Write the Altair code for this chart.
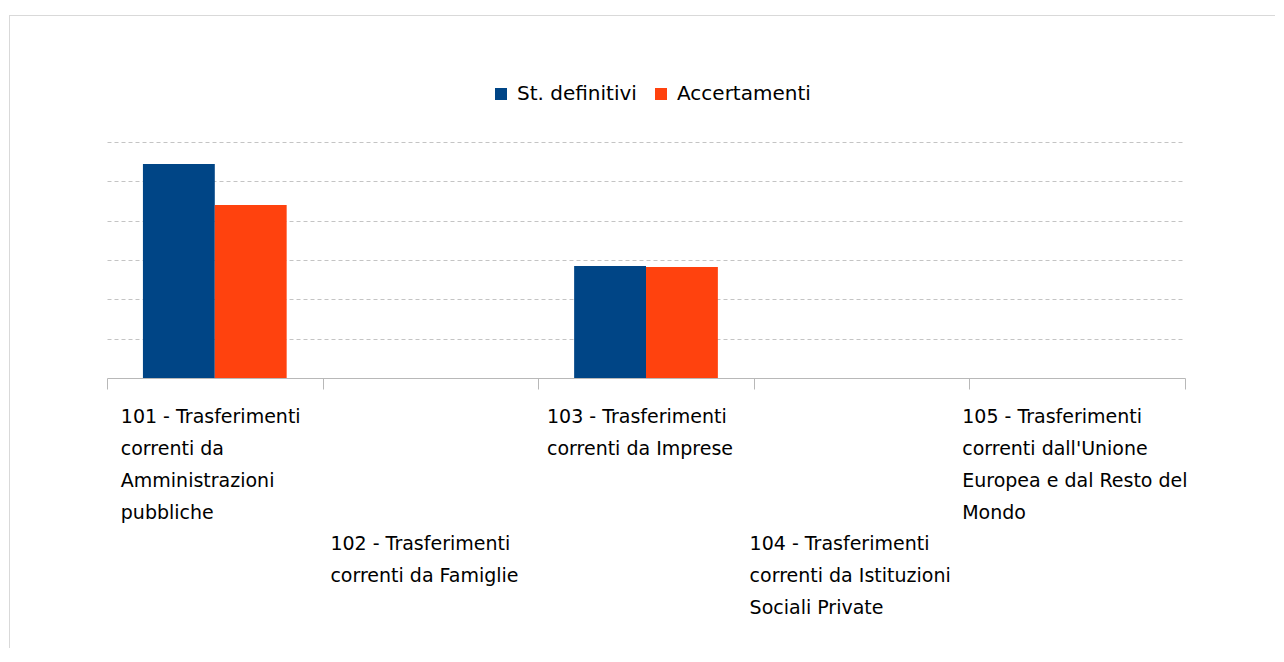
import altair as alt
import pandas as pd

categories = ["101", "102", "103", "104", "105"]
cat_labels = [
    "101 - Trasferimenti\ncorrenti da\nAmministrazioni\npubbliche",
    "102 - Trasferimenti\ncorrenti da Famiglie",
    "103 - Trasferimenti\ncorrenti da Imprese",
    "104 - Trasferimenti\ncorrenti da Istituzioni\nSociali Private",
    "105 - Trasferimenti\ncorrenti dall'Unione\nEuropea e dal Resto del\nMondo",
]
series = ["St. definitivi", "Accertamenti"]
st_definitivi = [5.44, 0.0, 2.85, 0.0, 0.0]
accertamenti = [4.40, 0.0, 2.82, 0.0, 0.0]
colors = ["#004586", "#ff420e"]

rows = []
for i, c in enumerate(categories):
    rows.append({"cat": c, "serie": series[0], "val": st_definitivi[i]})
    rows.append({"cat": c, "serie": series[1], "val": accertamenti[i]})
df = pd.DataFrame(rows)
lab_df = pd.DataFrame({"cat": categories, "label": cat_labels})

FONT = "DejaVu Sans"
W, H = 1078, 236

xscale = alt.Scale(domain=categories, paddingInner=0, paddingOuter=0)

bars = alt.Chart(df).mark_bar().encode(
    x=alt.X("cat:N", scale=xscale, sort=categories,
            axis=alt.Axis(labels=False, title=None, tickBand="extent",
                          tickSize=11, tickColor="#b8b8b8",
                          domainColor="#b8b8b8", grid=False)),
    xOffset=alt.XOffset("serie:N", sort=series,
                        scale=alt.Scale(domain=series, paddingOuter=0.5, paddingInner=0)),
    y=alt.Y("val:Q", scale=alt.Scale(domain=[0, 6], nice=False),
            axis=alt.Axis(values=[1, 2, 3, 4, 5, 6], labels=False, ticks=False,
                          domain=False, title=None, grid=True,
                          gridColor="#c4c4c4", gridDash=[4, 3], gridWidth=1)),
    color=alt.Color("serie:N", sort=series,
                    scale=alt.Scale(domain=series, range=colors),
                    legend=alt.Legend(title=None, orient="none", direction="horizontal",
                                      legendX=384, legendY=-58,
                                      symbolType="square", symbolSize=144,
                                      symbolStrokeWidth=0, labelFont=FONT,
                                      labelFontSize=20, labelColor="#000000",
                                      labelOffset=6, columnPadding=14, padding=0)),
)

# per-category label placement (block left edge relative to category center)
dxs = [-94, -100, -99, -112, -115]
ys = [281, 408, 281, 408, 281]
text_layers = []
for i, c in enumerate(categories):
    t = alt.Chart(lab_df).transform_filter(alt.datum.cat == c).mark_text(
        align="left", baseline="alphabetic", lineBreak="\n", lineHeight=32,
        font=FONT, fontSize=19, color="#000000", dx=dxs[i]
    ).encode(
        x=alt.X("cat:N", scale=xscale, sort=categories),
        y=alt.value(ys[i]),
        text="label:N",
    )
    text_layers.append(t)

frame_top = alt.Chart(lab_df).mark_rule(color="#d9d9d9", strokeWidth=1).encode(
    x=alt.value(-98), x2=alt.value(W + 90), y=alt.value(-126.5)
)
frame_left = alt.Chart(lab_df).mark_rule(color="#d9d9d9", strokeWidth=1).encode(
    x=alt.value(-97.5), y=alt.value(-126.5), y2=alt.value(H + 270)
)

chart = alt.layer(frame_top, frame_left, bars, *text_layers).properties(
    width=W, height=H,
    background="#ffffff",
    autosize=alt.AutoSizeParams(type="none"),
    padding={"left": 99, "top": 134, "right": 90, "bottom": 270},
).configure_view(stroke=None)

chart.save("out.html", embed_options={"renderer": "svg", "actions": False})
